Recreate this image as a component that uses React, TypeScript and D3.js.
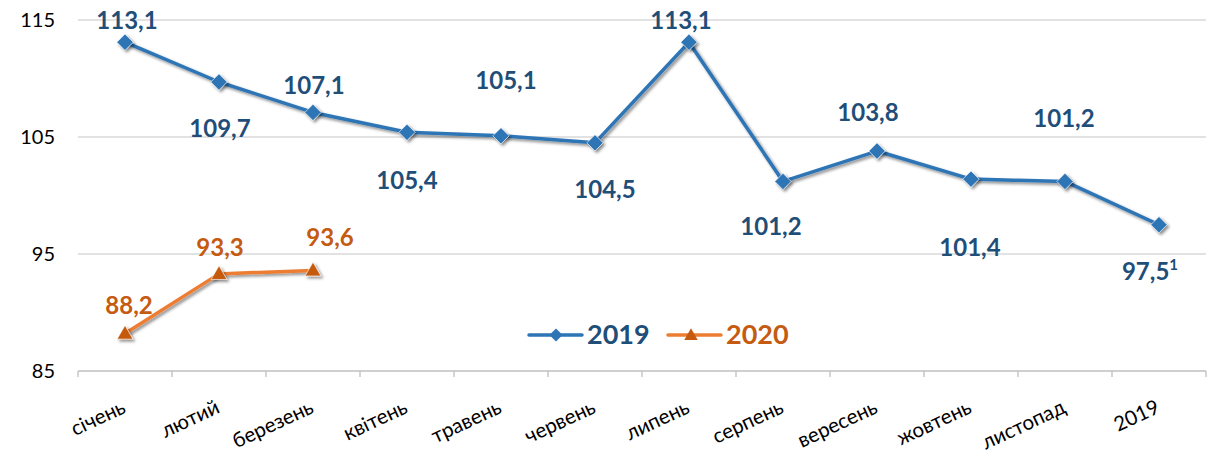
import { useEffect, useRef } from "react";
import * as d3 from "d3";

const categories = [
  "січень", "лютий", "березень", "квітень", "травень", "червень",
  "липень", "серпень", "вересень", "жовтень", "листопад", "2019",
];
const values2019 = [113.1, 109.7, 107.1, 105.4, 105.1, 104.5, 113.1, 101.2, 103.8, 101.4, 101.2, 97.5];
const values2020 = [88.2, 93.3, 93.6];
const yTicks = [85, 95, 105, 115];

// label placement (pixels relative to the point), hand-tuned like the source
const labelDx2019 = [2, 1, 1, 0, 5, 10, -8, -12, -9, -1, -1, -9];
const labelDy2019 = [-13, 55, -18, 57, -47, 55, -13, 54, -30, 77, -54, 55];
const labelDx2020 = [4, 1, 17];
const labelDy2020 = [-20, -18, -24];

const BLUE = "#2E75B6";
const BLUE_TXT = "#1F4E79";
const ORANGE = "#ED7D31";
const ORANGE_DK = "#C55A11";
const FONT = "Lato, 'Open Sans', sans-serif";

export default function App() {
  const ref = useRef<SVGSVGElement | null>(null);

  useEffect(() => {
    const W = 1212, H = 456;
    const left = 78, right = 1206, top = 20, bottom = 371;
    const svg = d3.select(ref.current).attr("width", W).attr("height", H);
    svg.selectAll("*").remove();

    const defs = svg.append("defs");
    const f = defs.append("filter").attr("id", "shadow")
      .attr("x", "-50%").attr("y", "-50%").attr("width", "200%").attr("height", "200%");
    f.append("feDropShadow").attr("dx", 2).attr("dy", 2).attr("stdDeviation", 1.6)
      .attr("flood-color", "#000").attr("flood-opacity", 0.45);

    const x = d3.scaleBand<string>().domain(categories).range([left, right]);
    const y = d3.scaleLinear().domain([85, 115]).range([bottom, top]);
    const cx = (i: number) => (x(categories[i]) ?? 0) + x.bandwidth() / 2;

    // gridlines
    svg.append("g").selectAll("line").data(yTicks.filter((t) => t !== 85)).join("line")
      .attr("x1", left).attr("x2", right)
      .attr("y1", (d) => y(d)).attr("y2", (d) => y(d))
      .attr("stroke", "#D9D9D9").attr("stroke-width", 1.3);

    // y labels
    svg.append("g").selectAll("text").data(yTicks).join("text")
      .attr("x", 55).attr("y", (d) => y(d)).attr("dy", "0.35em")
      .attr("text-anchor", "end").attr("font-family", FONT).attr("font-size", 20)
      .attr("fill", "#000").text((d) => d);

    // x axis
    const xAxis = svg.append("g");
    xAxis.append("line").attr("x1", left).attr("x2", right)
      .attr("y1", bottom).attr("y2", bottom).attr("stroke", "#BFBFBF").attr("stroke-width", 1.3);
    const tickXs = categories.map((c) => x(c) ?? 0).concat([right]);
    xAxis.selectAll("line.tick").data(tickXs).join("line").attr("class", "tick")
      .attr("x1", (d) => d).attr("x2", (d) => d)
      .attr("y1", bottom).attr("y2", bottom + 6)
      .attr("stroke", "#BFBFBF").attr("stroke-width", 1.3);
    xAxis.selectAll("text").data(categories).join("text")
      .attr("transform", (_d, i) => `translate(${cx(i) + 2},${bottom + 41}) rotate(-25)`)
      .attr("text-anchor", "end")
      .attr("font-family", FONT).attr("font-size", 20.5).attr("fill", "#000")
      .text((d) => d);

    const line = d3.line<number>().x((_d, i) => cx(i)).y((d) => y(d));

    // 2019
    svg.append("path").datum(values2019).attr("d", line)
      .attr("fill", "none").attr("stroke", BLUE).attr("stroke-width", 3.5)
      .attr("stroke-linejoin", "round").attr("filter", "url(#shadow)");
    const diamond = d3.symbol().type(d3.symbolDiamond2).size(170);
    svg.append("g").selectAll("path").data(values2019).join("path")
      .attr("d", diamond)
      .attr("transform", (d, i) => `translate(${cx(i)},${y(d)})`)
      .attr("fill", BLUE).attr("stroke", "#fff").attr("stroke-width", 0.6)
      .attr("filter", "url(#shadow)");

    // 2020
    svg.append("path").datum(values2020).attr("d", line)
      .attr("fill", "none").attr("stroke", ORANGE).attr("stroke-width", 3.5)
      .attr("stroke-linejoin", "round").attr("filter", "url(#shadow)");
    const tri = d3.symbol().type(d3.symbolTriangle2).size(180);
    svg.append("g").selectAll("path").data(values2020).join("path")
      .attr("d", tri)
      .attr("transform", (d, i) => `translate(${cx(i)},${y(d) + 1})`)
      .attr("fill", ORANGE_DK).attr("stroke", "#fff").attr("stroke-width", 0.6)
      .attr("filter", "url(#shadow)");

    const fmt = (v: number) => v.toFixed(1).replace(".", ",");

    // 2019 labels
    const lb = svg.append("g").attr("font-family", FONT).attr("font-weight", 700)
      .attr("font-size", 24).attr("fill", BLUE_TXT).attr("text-anchor", "middle");
    values2019.forEach((v, i) => {
      const t = lb.append("text")
        .attr("x", cx(i) + labelDx2019[i]).attr("y", y(v) + labelDy2019[i])
        .text(fmt(v));
      if (i === values2019.length - 1) {
        t.append("tspan").attr("font-size", 15).attr("dy", -10).text("1");
      }
    });

    // 2020 labels
    const lo = svg.append("g").attr("font-family", FONT).attr("font-weight", 700)
      .attr("font-size", 24).attr("fill", ORANGE_DK).attr("text-anchor", "middle");
    values2020.forEach((v, i) => {
      lo.append("text")
        .attr("x", cx(i) + labelDx2020[i]).attr("y", y(v) + labelDy2020[i])
        .text(fmt(v));
    });

    // legend
    const lg = svg.append("g").attr("transform", "translate(0,335)");
    lg.append("line").attr("x1", 529).attr("x2", 582).attr("y1", 0).attr("y2", 0)
      .attr("stroke", BLUE).attr("stroke-width", 3.5).attr("stroke-linecap", "round");
    lg.append("path").attr("d", d3.symbol().type(d3.symbolDiamond2).size(110)())
      .attr("transform", "translate(556,0)").attr("fill", BLUE);
    lg.append("text").attr("x", 587).attr("y", 0).attr("dy", "0.35em")
      .attr("font-family", FONT).attr("font-weight", 700).attr("font-size", 27)
      .attr("fill", BLUE_TXT).text("2019");
    lg.append("line").attr("x1", 668).attr("x2", 721).attr("y1", 0).attr("y2", 0)
      .attr("stroke", ORANGE).attr("stroke-width", 3.5).attr("stroke-linecap", "round");
    lg.append("path").attr("d", d3.symbol().type(d3.symbolTriangle2).size(130)())
      .attr("transform", "translate(691,1)").attr("fill", ORANGE_DK);
    lg.append("text").attr("x", 726).attr("y", 0).attr("dy", "0.35em")
      .attr("font-family", FONT).attr("font-weight", 700).attr("font-size", 27)
      .attr("fill", ORANGE_DK).text("2020");
  }, []);

  return (
    <svg ref={ref} style={{ position: "absolute", left: 0, top: 0, background: "#fff" }} />
  );
}
